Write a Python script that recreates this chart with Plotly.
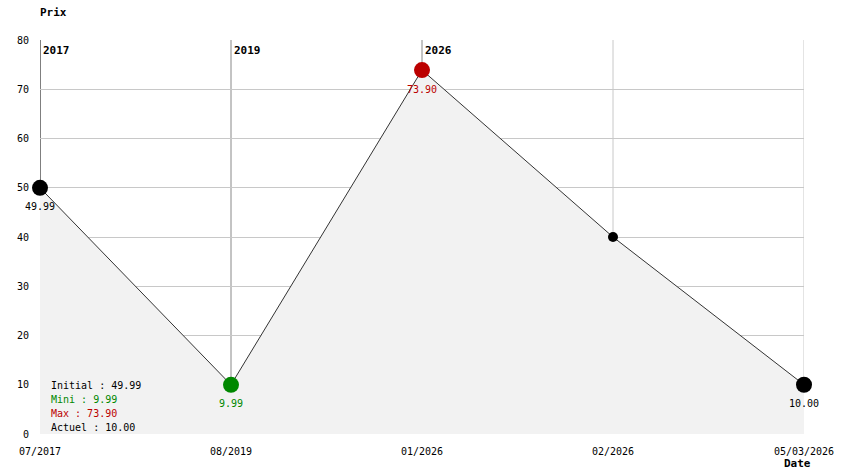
import plotly.graph_objects as go

dates = ["07/2017", "08/2019", "01/2026", "02/2026", "05/03/2026"]
prices = [49.99, 9.99, 73.90, 40.00, 10.00]
shown_labels = [True, True, True, False, True]
y_ticks = [0, 10, 20, 30, 40, 50, 60, 70, 80]

FONT = "DejaVu Sans Mono"
GREEN = "#008800"
RED = "#bb0000"
BLACK = "#000000"

n = len(prices)
i_min = prices.index(min(prices))
i_max = prices.index(max(prices))
xs = list(range(n))

colors = []
sizes = []
for i in range(n):
    if i == i_min:
        colors.append(GREEN)
    elif i == i_max:
        colors.append(RED)
    else:
        colors.append(BLACK)
    big = i in (0, i_min, i_max, n - 1)
    sizes.append(16 if big else 10)

fig = go.Figure()
fig.add_trace(go.Scatter(
    x=xs, y=prices, mode="lines",
    line=dict(color="#333333", width=1),
    fill="tozeroy", fillcolor="#f2f2f2",
    cliponaxis=False, hoverinfo="skip", showlegend=False,
))
fig.add_trace(go.Scatter(
    x=xs, y=prices, mode="markers",
    marker=dict(color=colors, size=sizes, opacity=1, line=dict(width=0)),
    cliponaxis=False, hoverinfo="skip", showlegend=False,
))

shapes = []
annotations = []
prev_year = None
for i, d in enumerate(dates):
    year = d.split("/")[-1]
    if i == 0:
        col = "#000000"
    elif year != prev_year:
        col = "#888888"
    else:
        col = "#c8c8c8"
    shapes.append(dict(type="line", xref="x", yref="y", x0=i, x1=i, y0=0, y1=y_ticks[-1],
                       line=dict(color=col, width=1), layer="below"))
    if year != prev_year:
        annotations.append(dict(x=i, y=y_ticks[-1], xref="x", yref="y", text="<b>%s</b>" % year,
                                showarrow=False, xanchor="left", yanchor="top", xshift=1, yshift=-2,
                                font=dict(family=FONT, size=11, color="#000000")))
    prev_year = year
    if shown_labels[i]:
        annotations.append(dict(x=i, y=prices[i], xref="x", yref="y", text="%.2f" % prices[i],
                                showarrow=False, xanchor="center", yanchor="middle", yshift=-19,
                                font=dict(family=FONT, size=10, color=colors[i])))

stats = [("Initial : %.2f" % prices[0], BLACK),
         ("Mini : %.2f" % prices[i_min], GREEN),
         ("Max : %.2f" % prices[i_max], RED),
         ("Actuel : %.2f" % prices[-1], BLACK)]
for k, (txt, col) in enumerate(stats):
    annotations.append(dict(x=0, y=0, xref="paper", yref="paper", text=txt, showarrow=False,
                            xanchor="left", yanchor="middle", xshift=9, yshift=49 - 14 * k,
                            font=dict(family=FONT, size=10, color=col)))

annotations.append(dict(x=0, y=1, xref="paper", yref="paper", text="<b>Prix</b>", showarrow=False,
                        xanchor="left", yanchor="middle", xshift=-2, yshift=28,
                        font=dict(family=FONT, size=11, color="#000000")))
annotations.append(dict(x=1, y=0, xref="paper", yref="paper", text="<b>Date</b>", showarrow=False,
                        xanchor="center", yanchor="middle", xshift=-7, yshift=-29,
                        font=dict(family=FONT, size=11, color="#000000")))

fig.update_layout(
    width=844, height=474,
    margin=dict(l=40, r=40, t=40, b=40, pad=0),
    paper_bgcolor="white", plot_bgcolor="white",
    font=dict(family=FONT, size=10, color="#000000"),
    shapes=shapes, annotations=annotations,
    xaxis=dict(range=[0, n - 1], tickvals=xs, ticktext=dates, showgrid=False, zeroline=False,
               showline=False, ticks="", ticklabelstandoff=10, fixedrange=True, automargin=False),
    yaxis=dict(range=[y_ticks[0], y_ticks[-1]], tickvals=y_ticks, showgrid=True, gridcolor="#c8c8c8",
               gridwidth=1, zeroline=False, showline=False, ticks="", ticklabelstandoff=10,
               fixedrange=True, automargin=False),
)

fig.write_html("out.html", config={"displayModeBar": False},
               post_script="document.body.style.margin='0';document.body.style.overflow='hidden';")
